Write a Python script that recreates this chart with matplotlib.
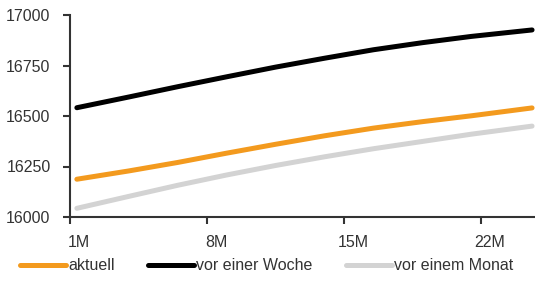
import matplotlib
matplotlib.use("Agg")
import matplotlib.pyplot as plt
import matplotlib.transforms as mtransforms

plt.rcParams['font.family'] = ['Liberation Sans', 'DejaVu Sans']

# data (x in months)
x = [1.35, 4, 6.5, 9, 11.5, 14, 16.5, 19, 21.5, 24.6]
aktuell = [16187, 16228, 16270, 16316, 16360, 16402, 16440, 16472, 16501, 16540]
woche = [16541, 16594, 16645, 16694, 16742, 16786, 16828, 16863, 16894, 16926]
monat = [16043, 16102, 16157, 16208, 16255, 16298, 16338, 16374, 16410, 16450]

xticks = [1, 8, 15, 22]
xticklabels = ["1M", "8M", "15M", "22M"]
yticks = [16000, 16250, 16500, 16750, 17000]

fig = plt.figure(figsize=(5.35, 2.84), dpi=100)
ax = fig.add_axes([70/535, 1-217/284, 465/535, 202/284])

c_or = "#f39a1e"
c_bk = "#000000"
c_gr = "#d3d3d3"
kw = dict(lw=3.6, solid_capstyle='round', solid_joinstyle='round')
ax.plot(x, aktuell, color=c_or, label="aktuell", **kw)
ax.plot(x, woche, color=c_bk, label="vor einer Woche", **kw)
ax.plot(x, monat, color=c_gr, label="vor einem Monat", **kw)

ax.set_xlim(1, 24.75)
ax.set_ylim(16000, 17000)
ax.set_xticks(xticks)
ax.set_xticklabels(xticklabels)
ax.set_yticks(yticks)

for s in ['top', 'right']:
    ax.spines[s].set_visible(False)
for s in ['left', 'bottom']:
    ax.spines[s].set_color('#333333')
    ax.spines[s].set_linewidth(1.5)

ax.tick_params(axis='both', direction='out', length=5, width=1.5, color='#333333',
               labelsize=11.5, labelcolor='#333333')
ax.tick_params(axis='y', pad=9)
ax.tick_params(axis='x', pad=8)

off = mtransforms.ScaledTranslation(9/100, 0, fig.dpi_scale_trans)
for lab in ax.get_xticklabels():
    lab.set_transform(lab.get_transform() + off)

leg = fig.legend(loc='center left', bbox_to_anchor=(20/535, 1-266/284), ncol=3,
                 frameon=False, fontsize=11.5, handlelength=2.9, handletextpad=0.1,
                 columnspacing=2.1, borderpad=0, borderaxespad=0)
for t in leg.get_texts():
    t.set_color('#333333')

fig.savefig("out.png", dpi=100)
